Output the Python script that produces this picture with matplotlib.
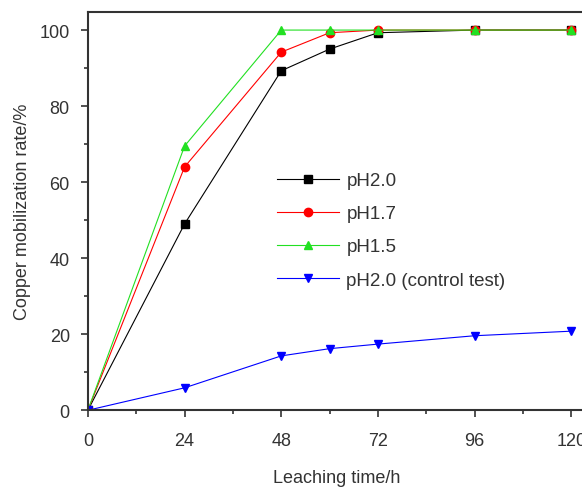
import matplotlib
matplotlib.use("Agg")
import matplotlib.pyplot as plt
from matplotlib.ticker import MultipleLocator

plt.rcParams["font.family"] = ["Liberation Sans", "DejaVu Sans"]

# leaching time (h)
hours = [0, 24, 48, 60, 72, 96, 120]

# copper mobilization rate (%)
ph20 = [0, 49, 89.3, 95, 99.3, 100, 100]
ph17 = [0, 64, 94.2, 99.3, 100, 100, 100]
ph15 = [0, 69.5, 100, 100, 100, 100, 100]
ph20_control = [0, 5.9, 14.3, 16.2, 17.4, 19.6, 20.8]

labels = ["pH2.0", "pH1.7", "pH1.5", "pH2.0 (control test)"]

TXT = "#333333"

fig = plt.figure(figsize=(5.82, 4.89), dpi=100)
ax = fig.add_axes([0.151, 0.159, 0.855, 0.814])

lw = 0.8
ax.plot(hours, ph20, color="black", marker="s", ms=5.2, lw=lw, label=labels[0])
ax.plot(hours, ph17, color="red", marker="o", ms=6, lw=lw, label=labels[1])
ax.plot(hours, ph15, color="#22e022", marker="^", ms=6, lw=lw, label=labels[2])
ax.plot(hours, ph20_control, color="blue", marker="v", ms=6, lw=lw, label=labels[3])

ax.set_xlim(0, 123.5)
ax.set_ylim(0, 104.7)
ax.xaxis.set_major_locator(MultipleLocator(24))
ax.xaxis.set_minor_locator(MultipleLocator(12))
ax.yaxis.set_major_locator(MultipleLocator(20))
ax.yaxis.set_minor_locator(MultipleLocator(10))
ax.tick_params(which="major", length=5, width=1.2, labelsize=13, color=TXT, labelcolor=TXT)
ax.tick_params(which="minor", length=3, width=1.2, color=TXT)
ax.tick_params(axis="x", which="major", pad=11)
ax.tick_params(axis="y", which="major", pad=8)
for s in ax.spines.values():
    s.set_linewidth(1.5)
    s.set_color(TXT)

ax.set_xlabel("Leaching time/h", fontsize=13, labelpad=14, color=TXT)
ax.set_ylabel("Copper mobilization rate/%", fontsize=13, labelpad=6, color=TXT)

ax.legend(loc="upper left", bbox_to_anchor=(0.38, 0.598), frameon=False,
          fontsize=13.5, handlelength=3.3, handletextpad=0.4, labelspacing=0.85,
          borderpad=0, borderaxespad=0, labelcolor=TXT)

fig.savefig("out.png", dpi=100)
